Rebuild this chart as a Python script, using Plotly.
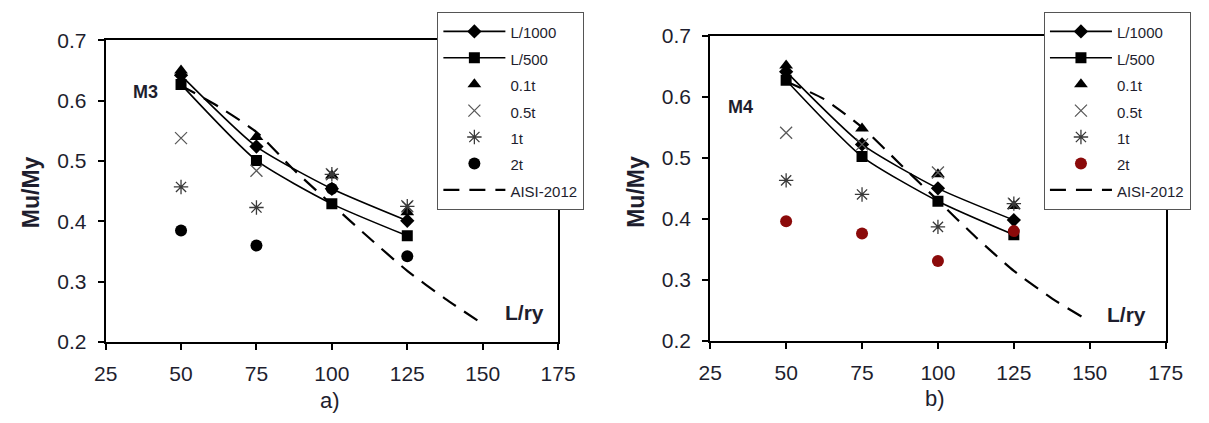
import plotly.graph_objects as go

# ---------------- data ----------------
L_RY = [50, 75, 100, 125]

# Panel a) M3
m3_L1000 = [0.642, 0.524, 0.454, 0.401]
m3_L500 = [0.627, 0.501, 0.429, 0.376]
m3_01t = [0.650, 0.540, 0.476, 0.415]
m3_05t = [0.538, 0.484, 0.478, 0.425]
m3_1t = [0.457, 0.423, 0.478, 0.425]
m3_2t = [0.385, 0.360, 0.454, 0.342]
m3_aisi_x = [50, 62.5, 75, 87.5, 100, 112.5, 125, 137.5, 150]
m3_aisi_y = [0.625, 0.590, 0.548, 0.485, 0.428, 0.372, 0.318, 0.272, 0.230]

# Panel b) M4
m4_L1000 = [0.641, 0.522, 0.450, 0.398]
m4_L500 = [0.627, 0.502, 0.429, 0.374]
m4_01t = [0.651, 0.548, 0.473, 0.421]
m4_05t = [0.541, 0.522, 0.476, 0.425]
m4_1t = [0.463, 0.440, 0.387, 0.425]
m4_2t = [0.396, 0.376, 0.331, 0.380]
m4_aisi_x = [50, 62.5, 75, 87.5, 100, 112.5, 125, 137.5, 148]
m4_aisi_y = [0.625, 0.596, 0.550, 0.490, 0.430, 0.370, 0.315, 0.270, 0.238]

X_TICKS = [25, 50, 75, 100, 125, 150, 175]
Y_TICKS = [0.2, 0.3, 0.4, 0.5, 0.6, 0.7]

FONT = "Liberation Sans, Arial, sans-serif"
TXT = "#1e1e2e"
W, H = 1209, 423


def lbl(s):
    return "<span style='font-size:15px'>%s</span>" % s


fig = go.Figure()


def add_panel(xa, ya, leg, L1000, L500, t01, t05, t1, t2, ax, ay, red2t):
    common = dict(xaxis=xa, yaxis=ya, legend=leg)
    fig.add_trace(go.Scatter(x=L_RY, y=L1000, mode="lines+markers", name=lbl("L/1000"),
                             line=dict(color="black", width=1.6, shape="spline", smoothing=0.6),
                             marker=dict(symbol="diamond", size=11, color="black"), **common))
    fig.add_trace(go.Scatter(x=L_RY, y=L500, mode="lines+markers", name=lbl("L/500"),
                             line=dict(color="black", width=1.6, shape="spline", smoothing=0.6),
                             marker=dict(symbol="square", size=11, color="black"), **common))
    fig.add_trace(go.Scatter(x=L_RY, y=t01, mode="markers", name=lbl("0.1t"),
                             marker=dict(symbol="triangle-up", size=12, color="black"), **common))
    fig.add_trace(go.Scatter(x=L_RY, y=t05, mode="markers", name=lbl("0.5t"),
                             marker=dict(symbol="x-thin-open", size=12, color="#5a5a5a",
                                         line=dict(color="#5a5a5a", width=1.3)), **common))
    fig.add_trace(go.Scatter(x=L_RY, y=t1, mode="markers", name=lbl("1t"),
                             marker=dict(symbol="asterisk-open", size=12, color="#3a3a3a",
                                         line=dict(color="#3a3a3a", width=1.3)), **common))
    fig.add_trace(go.Scatter(x=L_RY, y=t2, mode="markers", name=lbl("2t"),
                             marker=dict(symbol="circle", size=12,
                                         color="#8B0A0A" if red2t else "black"), **common))
    fig.add_trace(go.Scatter(x=ax, y=ay, mode="lines", name=lbl("AISI-2012"),
                             line=dict(color="black", width=2.2, dash="16px,10px",
                                       shape="spline", smoothing=0.6), **common))


add_panel("x", "y", "legend", m3_L1000, m3_L500, m3_01t, m3_05t, m3_1t, m3_2t,
          m3_aisi_x, m3_aisi_y, False)
add_panel("x2", "y2", "legend2", m4_L1000, m4_L500, m4_01t, m4_05t, m4_1t, m4_2t,
          m4_aisi_x, m4_aisi_y, True)

axis_common = dict(showgrid=False, zeroline=False, showline=True, linecolor="black",
                   linewidth=2, mirror=True, ticks="outside", ticklen=6, tickwidth=1.5,
                   tickcolor="black", tickfont=dict(family=FONT, size=21, color=TXT))
xaxis_common = dict(ticklabelstandoff=6, **axis_common)
yaxis_common = dict(ticklabelstandoff=7, **axis_common)

# pixel domains
L_x0, L_x1, L_y0, L_y1 = 96, 560, 30, 349
R_x0, R_x1, R_y0, R_y1 = 716, 1183, 25, 348

leg_common = dict(xanchor="left", yanchor="top", bgcolor="white", bordercolor="#555",
                  borderwidth=1.2, font=dict(family=FONT, size=18, color=TXT),
                  tracegroupgap=0, itemwidth=62)

fig.update_layout(
    width=W, height=H,
    margin=dict(l=0, r=0, t=0, b=0),
    paper_bgcolor="white", plot_bgcolor="white",
    font=dict(family=FONT, color=TXT),
    xaxis=dict(domain=[L_x0 / W, L_x1 / W], range=[25, 175], tickvals=X_TICKS, anchor="y", **xaxis_common),
    yaxis=dict(domain=[1 - L_y1 / H, 1 - L_y0 / H], range=[0.2, 0.7], tickvals=Y_TICKS,
               tickformat=".1f", anchor="x", **yaxis_common),
    xaxis2=dict(domain=[R_x0 / W, R_x1 / W], range=[25, 175], tickvals=X_TICKS, anchor="y2", **xaxis_common),
    yaxis2=dict(domain=[1 - R_y1 / H, 1 - R_y0 / H], range=[0.2, 0.7], tickvals=Y_TICKS,
                tickformat=".1f", anchor="x2", **yaxis_common),
    legend=dict(x=436 / W, y=1.0, **leg_common),
    legend2=dict(x=1058 / W, y=1.0, **leg_common),
    showlegend=True,
)


def note(text, x, y, size, bold=False, angle=0, ref="paper"):
    if ref == "paper":
        xr, yr, xv, yv = "paper", "paper", x / W, 1 - y / H
    else:
        xr, yr, xv, yv = ref[0], ref[1], x, y
    fig.add_annotation(text="<b>%s</b>" % text if bold else text, xref=xr, yref=yr,
                       x=xv, y=yv, xanchor="center", yanchor="middle", textangle=angle,
                       showarrow=False, font=dict(family=FONT, size=size, color=TXT))


note("Mu/My", 19, 191, 23, bold=True, angle=-90)
note("Mu/My", 640, 190, 23, bold=True, angle=-90)
note("M3", 137, 85, 18, bold=True)
note("M4", 747, 100, 18, bold=True)
note("L/ry", 164, 0.249, 21, bold=True, ref=("x", "y"))
note("L/ry", 162, 0.243, 21, bold=True, ref=("x2", "y2"))
note("a)", 326, 411, 22)
note("b)", 946, 409, 22)

fig.write_html("out.html")
